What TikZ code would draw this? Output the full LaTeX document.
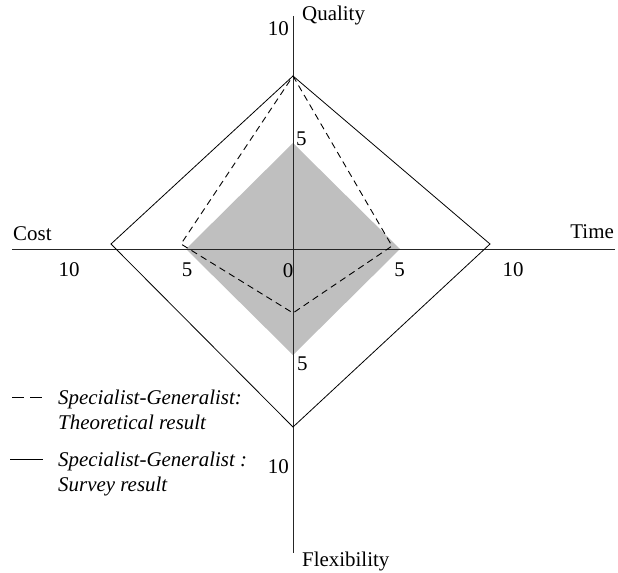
\documentclass[tikz,border=0pt]{standalone}
\usepackage{fontspec}
\setmainfont{Liberation Serif}
\begin{document}
\begin{tikzpicture}[x=1bp,y=-1bp,
  lbl/.style={inner sep=0pt,font=\fontsize{21}{25}\selectfont},
  leg/.style={inner sep=0pt,align=left,font=\fontsize{21}{25}\selectfont\itshape},
  axisline/.style={line width=1pt,draw=black!85},
  survey/.style={line width=0.8pt,draw=black},
  theory/.style={line width=0.9pt,draw=black,dash pattern=on 6.5bp off 4.5bp},
  shade/.style={fill=black!25,draw=none}]
\useasboundingbox (0,0) rectangle (618,573);
% coordinates
\coordinate (O) at (293,249);
\coordinate (axT) at (293,16);
\coordinate (axB) at (293,553);
\coordinate (axL) at (12,249);
\coordinate (axR) at (615,249);
\coordinate (sT) at (293,76);
\coordinate (sL) at (111,244);
\coordinate (sR) at (490,244);
\coordinate (sB) at (293,427);
\coordinate (dT) at (293,76);
\coordinate (dL) at (181,244);
\coordinate (dR) at (392,246);
\coordinate (dB) at (293,313);
\coordinate (gT) at (293,143);
\coordinate (gL) at (186,249);
\coordinate (gR) at (400,249);
\coordinate (gB) at (293,355);
% gray area
\fill[shade] (gT) -- (gR) -- (gB) -- (gL) -- cycle;
% axes
\draw[axisline] (axT) -- (axB);
\draw[axisline] (axL) -- (axR);
% survey
\draw[survey] (sT) -- (sR) -- (sB) -- (sL) -- cycle;
% theoretical
\draw[theory] (dT) -- (dR) -- (dB) -- (dL) -- cycle;
% axis names
\node[lbl,anchor=base west] (quality) at (302,21) {Quality};
\node[lbl,anchor=base west] (cost) at (13,240) {Cost};
\node[lbl,anchor=base east] (time) at (614,238) {Time};
\node[lbl,anchor=base west] (flex) at (302,566) {Flexibility};
% tick labels
\node[lbl,anchor=base east] (q10) at (289,36) {10};
\node[lbl,anchor=base west] (q5) at (296,146) {5};
\node[lbl,anchor=base] (c10) at (69,276) {10};
\node[lbl,anchor=base] (c5) at (187,276) {5};
\node[lbl,anchor=base] (zero) at (288,277) {0};
\node[lbl,anchor=base] (t5) at (399.5,276) {5};
\node[lbl,anchor=base] (t10) at (513,276) {10};
\node[lbl,anchor=base west] (f5) at (297,370) {5};
\node[lbl,anchor=base east] (f10) at (289,473) {10};
% legend
\coordinate (l1a) at (12,397);
\coordinate (l1b) at (42,397);
\coordinate (l2a) at (10,459);
\coordinate (l2b) at (43,459);
\draw[line width=0.8pt,dash pattern=on 12bp off 6bp] (l1a) -- (l1b);
\draw[survey] (l2a) -- (l2b);
\node[leg,anchor=base west] (legT) at (58,429) {Specialist-Generalist:\\Theoretical result};
\node[leg,anchor=base west] (legS) at (58,491) {Specialist-Generalist :\\Survey result};
\end{tikzpicture}
\end{document}
